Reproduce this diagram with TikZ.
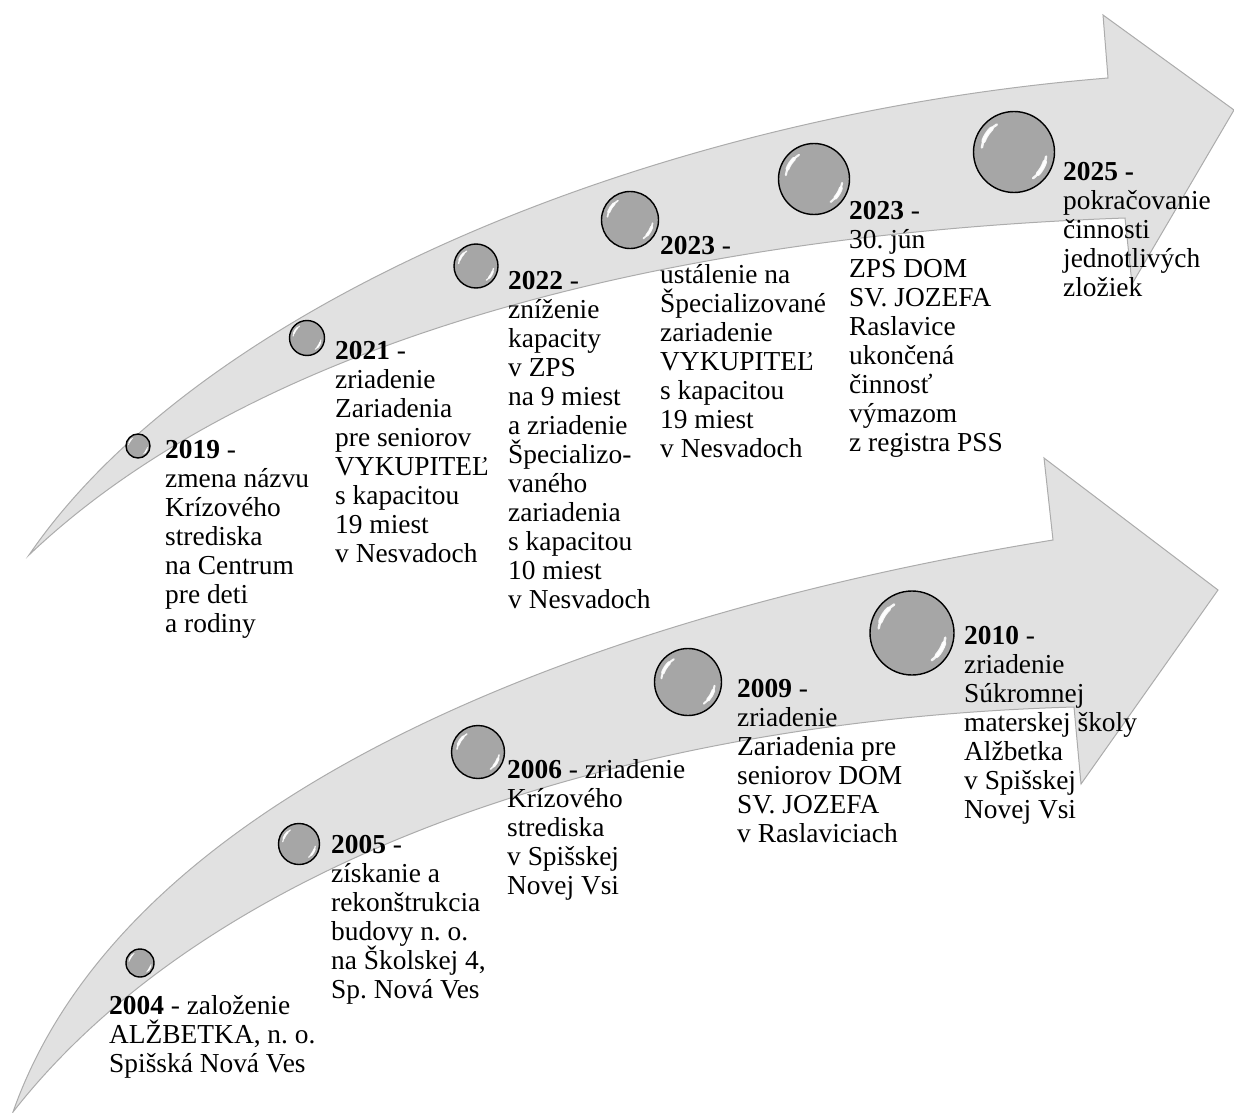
\documentclass[tikz,border=0pt]{standalone}
\usepackage{fontspec}
\setmainfont{Liberation Serif}
\frenchspacing
\definecolor{arrfill}{RGB}{225,225,225}
\definecolor{arrline}{RGB}{172,172,172}
\definecolor{sphin}{RGB}{166,166,166}
\definecolor{sphmid}{RGB}{180,180,180}
\definecolor{sphout}{RGB}{212,212,212}
\pgfdeclareradialshading{sphshade}{\pgfpoint{0bp}{0bp}}{color(0bp)=(sphin); color(32bp)=(sphin); color(41bp)=(sphmid); color(48bp)=(sphout); color(50bp)=(sphout)}
\newcommand\blk[1]{{\let\\\cr\vtop{\halign{##\hfil\cr#1\crcr}}}}
\setlength\lineskiplimit{-100pt}
\tikzset{
  arrowbody/.style={fill=arrfill, draw=arrline, line width=1pt, line join=miter},
  sphere/.style={circle, inner sep=0pt, shading=sphshade, draw=black, line width=1.4pt},
  hl/.style={white, line cap=round, opacity=0.9},
  lbl/.style={anchor=base west, inner sep=0pt, font=\fontsize{27.4}{29}\selectfont},
}
\newcommand\sph[4]{%
  \node[sphere, minimum size=#4*2pt] (#1) at (#2,#3) {};
  \begin{scope}[shift={(#1.center)}, x=1pt, y=1pt]
    \draw[hl, line width=#4*0.06pt] (122:#4*0.8) arc[start angle=122, end angle=172, radius=#4*0.8];
    \draw[hl, line width=#4*0.11pt] (134:#4*0.8) arc[start angle=134, end angle=160, radius=#4*0.8];
    \draw[hl, line width=#4*0.06pt] (-8:#4*0.8) arc[start angle=-8, end angle=-54, radius=#4*0.8];
    \draw[hl, line width=#4*0.11pt] (-18:#4*0.8) arc[start angle=-18, end angle=-42, radius=#4*0.8];
  \end{scope}}
\begin{document}
\begin{tikzpicture}[x=1pt, y=-1pt]
\useasboundingbox (0,0) rectangle (1234,1113);
% upper arrow
\path[arrowbody] (29,555) .. controls (200,305) and (650,115) .. (1108,78)
  -- (1103,15) -- (1234,110) -- (1132,284) -- (1125,218)
  .. controls (650,235) and (250,345) .. (29,555) -- cycle;
% lower arrow
\path[arrowbody] (13,1112) .. controls (130,780) and (620,610) .. (1053,540)
  -- (1044,458) -- (1218,590) -- (1081,784) -- (1074,707)
  .. controls (620,720) and (210,860) .. (13,1112) -- cycle;
% spheres
\sph{c2019}{138}{446}{12}
\sph{c2021}{307}{338}{17.5}
\sph{c2022}{476}{266}{22}
\sph{c2023a}{630}{220}{28.5}
\sph{c2023b}{814}{179}{35.5}
\sph{c2025}{1014}{152}{40.5}
\sph{c2004}{140}{963}{14}
\sph{c2005}{299}{844}{20.5}
\sph{c2006}{478}{752}{26.5}
\sph{c2009}{688}{682}{33.5}
\sph{c2010}{912}{633}{42}
% labels
\node[lbl] (t2019) at (165,458) {\blk{\textbf{2019} -\\zmena názvu\\Krízového\\strediska\\na Centrum\\pre deti\\a rodiny}};
\node[lbl] (t2021) at (335,359) {\blk{\textbf{2021} -\\zriadenie\\Zariadenia\\pre seniorov\\VYKUPITEĽ\\s kapacitou\\19 miest\\v Nesvadoch}};
\node[lbl] (t2022) at (508,289) {\blk{\textbf{2022} -\\zníženie\\kapacity\\v ZPS\\na 9 miest\\a zriadenie\\Špecializo-\\vaného\\zariadenia\\s kapacitou\\10 miest\\v Nesvadoch}};
\node[lbl] (t2023a) at (660,254) {\blk{\textbf{2023} -\\ustálenie na\\Špecializované\\zariadenie\\VYKUPITEĽ\\s kapacitou\\19 miest\\v Nesvadoch}};
\node[lbl] (t2023b) at (849,219) {\blk{\textbf{2023} -\\30. jún\\ZPS DOM\\SV. JOZEFA\\Raslavice\\ukončená\\činnosť\\výmazom\\z registra PSS}};
\node[lbl] (t2025) at (1063,180) {\blk{\textbf{2025 -}\\pokračovanie\\činnosti\\jednotlivých\\zložiek}};
\node[lbl] (t2004) at (109,1014) {\blk{\textbf{2004} - založenie\\ALŽBETKA, n. o.\\Spišská Nová Ves}};
\node[lbl] (t2005) at (331,853) {\blk{\textbf{2005} -\\získanie a\\rekonštrukcia\\budovy n. o.\\na Školskej 4,\\Sp. Nová Ves}};
\node[lbl] (t2006) at (507,778) {\blk{\textbf{2006} - zriadenie\\Krízového\\strediska\\v Spišskej\\Novej Vsi}};
\node[lbl] (t2009) at (737,697) {\blk{\textbf{2009} -\\zriadenie\\Zariadenia pre\\seniorov DOM\\SV. JOZEFA\\v Raslaviciach}};
\node[lbl] (t2010) at (964,644) {\blk{\textbf{2010} -\\zriadenie\\Súkromnej\\materskej školy\\Alžbetka\\v Spišskej\\Novej Vsi}};
\end{tikzpicture}
\end{document}
